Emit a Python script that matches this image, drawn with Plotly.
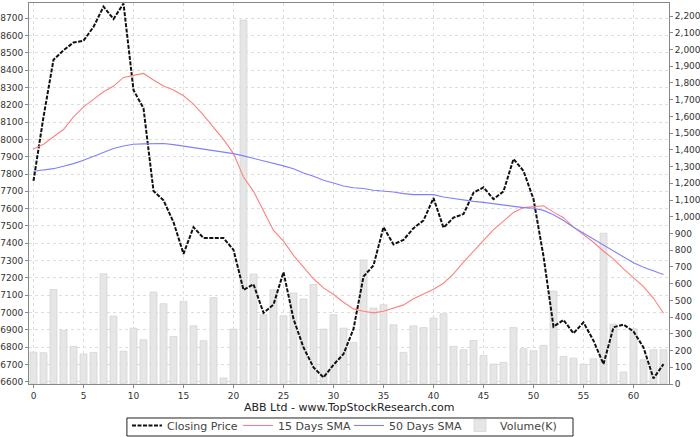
import plotly.graph_objects as go

days = list(range(64))

closing_price = [7760, 8130, 8460, 8515, 8560, 8570, 8650, 8767, 8696, 8785,
                 8285, 8180, 7702, 7648, 7522, 7339, 7493, 7430, 7430, 7430,
                 7362, 7131, 7163, 6998, 7046, 7233, 6963, 6798, 6683, 6625,
                 6698, 6760, 6905, 7208, 7272, 7493, 7393, 7420, 7487, 7532,
                 7661, 7490, 7548, 7569, 7692, 7723, 7655, 7700, 7887, 7818,
                 7655, 7325, 6918, 6957, 6880, 6943, 6837, 6702, 6915, 6930,
                 6891, 6798, 6619, 6702]

sma15 = [7945, 7972, 8015, 8057, 8130, 8188, 8231, 8275, 8308, 8358,
         8370, 8381, 8343, 8308, 8285, 8252, 8204, 8140, 8069, 8000,
         7918, 7783, 7700, 7586, 7474, 7412, 7330, 7262, 7195, 7142,
         7104, 7059, 7021, 7007, 6998, 7007, 7027, 7044, 7079, 7108,
         7134, 7169, 7223, 7291, 7354, 7420, 7479, 7528, 7578, 7606,
         7613, 7617, 7580, 7548, 7493, 7452, 7406, 7354, 7310, 7252,
         7200, 7150, 7082, 6996]

sma50 = [7816, 7822, 7831, 7845, 7860, 7880, 7903, 7928, 7947, 7962,
         7972, 7974, 7976, 7976, 7970, 7961, 7953, 7945, 7936, 7928,
         7918, 7905, 7891, 7878, 7860, 7847, 7831, 7806, 7787, 7764,
         7748, 7731, 7721, 7716, 7706, 7702, 7696, 7687, 7681, 7681,
         7681, 7667, 7658, 7648, 7642, 7636, 7629, 7619, 7611, 7606,
         7602, 7590, 7565, 7532, 7493, 7459, 7426, 7387, 7354, 7320,
         7287, 7262, 7239, 7220]

volume_k = [191, 187, 565, 320, 225, 179, 189, 659, 406, 197,
            334, 265, 550, 480, 284, 494, 348, 259, 517, 36,
            328, 2176, 657, 414, 563, 408, 544, 508, 595, 328,
            414, 334, 249, 742, 454, 474, 354, 189, 348, 338,
            394, 420, 225, 205, 260, 171, 119, 129, 338, 211,
            199, 231, 556, 165, 155, 119, 151, 902, 358, 72,
            330, 145, 205, 205]

price_ticks = list(range(6600, 8701, 100))
volume_ticks = list(range(0, 2201, 100))
x_ticks = list(range(0, 61, 5))
x_title = "ABB Ltd - www.TopStockResearch.com"

FONT = "DejaVu Sans"

fig = go.Figure()

fig.add_trace(go.Bar(
    x=days, y=volume_k, name="Volume(K)", yaxis="y",
    width=0.7,
    marker=dict(color="#e6e6e6", line=dict(color="#cccccc", width=0.6)),
    legendrank=4,
))
fig.add_trace(go.Scatter(
    x=days, y=closing_price, name="Closing Price", yaxis="y2",
    mode="lines", line=dict(color="#111111", width=2, dash="4px,1.5px"),
    legendrank=1,
))
fig.add_trace(go.Scatter(
    x=days, y=sma15, name="15 Days SMA", yaxis="y2",
    mode="lines", line=dict(color="#ff8080", width=1.1),
    legendrank=2,
))
fig.add_trace(go.Scatter(
    x=days, y=sma50, name="50 Days SMA", yaxis="y2",
    mode="lines", line=dict(color="#8080ff", width=1.1),
    legendrank=3,
))

axis_common = dict(
    showline=True, linecolor="#888888", linewidth=1,
    ticks="outside", ticklen=3, tickcolor="#888888",
    tickfont=dict(family=FONT, size=9, color="#333333"),
    zeroline=False,
)

fig.update_layout(
    width=700, height=437,
    margin=dict(l=29, r=31, t=3, b=53, autoexpand=False),
    paper_bgcolor="white", plot_bgcolor="white",
    font=dict(family=FONT, size=11, color="#333333"),
    xaxis=dict(
        range=[-0.45, 63.55], tickvals=x_ticks, mirror=True,
        showgrid=True, gridcolor="#dddddd", griddash="3px,3px", gridwidth=1,
        automargin=False,
        **axis_common,
    ),
    yaxis=dict(
        side="right", range=[0, 2278], tickvals=volume_ticks,
        tickformat=",d", showgrid=False, automargin=False,
        **axis_common,
    ),
    yaxis2=dict(
        side="left", overlaying="y", range=[6587, 8788], tickvals=price_ticks,
        showgrid=True, gridcolor="#dddddd", griddash="3px,3px", gridwidth=1,
        automargin=False,
        **axis_common,
    ),
    legend=dict(
        orientation="h", x=0.5, xanchor="center",
        yref="container", y=0.0595, yanchor="top",
        borderwidth=0, bgcolor="rgba(0,0,0,0)",
        font=dict(family=FONT, size=11, color="#444444"),
        itemwidth=30, tracegroupgap=0,
        entrywidthmode="pixels", entrywidth=66,
    ),
    annotations=[dict(
        text=x_title, xref="paper", yref="paper", x=0.5, y=-0.061,
        xanchor="center", yanchor="middle", showarrow=False,
        font=dict(family=FONT, size=11, color="#222222"),
    )],
    shapes=[dict(
        type="rect", xref="paper", yref="paper",
        x0=0.153, x1=0.85, y0=-0.1365, y1=-0.0892,
        line=dict(color="#222222", width=1), fillcolor="rgba(0,0,0,0)",
        layer="below",
    )],
    showlegend=True,
)

fig.write_html("out.html")
